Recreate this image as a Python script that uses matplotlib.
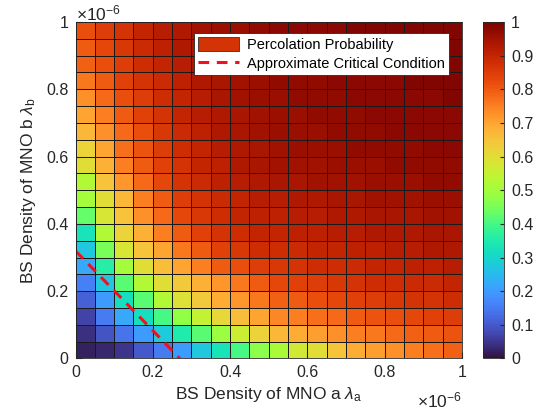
import numpy as np
import matplotlib
matplotlib.use("Agg")
import matplotlib.pyplot as plt
from matplotlib.patches import Patch
from matplotlib.lines import Line2D
from matplotlib.ticker import FuncFormatter

plt.rcParams['font.family'] = ['Liberation Sans', 'DejaVu Sans']
plt.rcParams['mathtext.fontset'] = 'custom'
plt.rcParams['mathtext.rm'] = 'Liberation Sans'
plt.rcParams['mathtext.it'] = 'Liberation Sans:italic'

# grid edges of BS densities (units of 1e-6)
lam_a = [0, 0.05, 0.1, 0.15, 0.2, 0.25, 0.3, 0.35, 0.4, 0.45, 0.5,
         0.55, 0.6, 0.65, 0.7, 0.75, 0.8, 0.85, 0.9, 0.95, 1.0]
lam_b = [0, 0.05, 0.1, 0.15, 0.2, 0.25, 0.3, 0.35, 0.4, 0.45, 0.5,
         0.55, 0.6, 0.65, 0.7, 0.75, 0.8, 0.85, 0.9, 0.95, 1.0]

# percolation probability, rows = lambda_b (bottom to top), cols = lambda_a
perc_prob = [
    [0.02, 0.03, 0.05, 0.10, 0.15, 0.20, 0.27, 0.33, 0.40, 0.47, 0.51, 0.57, 0.60, 0.65, 0.69, 0.71, 0.73, 0.75, 0.77, 0.79],
    [0.04, 0.09, 0.14, 0.20, 0.28, 0.35, 0.42, 0.49, 0.56, 0.62, 0.67, 0.69, 0.71, 0.73, 0.75, 0.76, 0.78, 0.79, 0.80, 0.81],
    [0.07, 0.15, 0.22, 0.32, 0.40, 0.48, 0.55, 0.61, 0.66, 0.70, 0.74, 0.75, 0.77, 0.78, 0.80, 0.81, 0.82, 0.83, 0.84, 0.85],
    [0.11, 0.20, 0.32, 0.42, 0.52, 0.59, 0.64, 0.69, 0.72, 0.76, 0.79, 0.80, 0.82, 0.83, 0.84, 0.85, 0.86, 0.87, 0.87, 0.88],
    [0.16, 0.27, 0.42, 0.52, 0.60, 0.64, 0.68, 0.72, 0.76, 0.80, 0.83, 0.84, 0.85, 0.86, 0.87, 0.88, 0.88, 0.89, 0.89, 0.90],
    [0.22, 0.36, 0.50, 0.60, 0.66, 0.70, 0.75, 0.80, 0.82, 0.85, 0.86, 0.87, 0.88, 0.88, 0.89, 0.90, 0.90, 0.91, 0.91, 0.92],
    [0.27, 0.45, 0.58, 0.65, 0.70, 0.76, 0.80, 0.84, 0.86, 0.88, 0.88, 0.89, 0.90, 0.90, 0.91, 0.91, 0.92, 0.92, 0.93, 0.93],
    [0.33, 0.52, 0.62, 0.68, 0.75, 0.80, 0.84, 0.87, 0.88, 0.90, 0.90, 0.91, 0.91, 0.92, 0.92, 0.93, 0.93, 0.93, 0.94, 0.94],
    [0.43, 0.58, 0.65, 0.73, 0.78, 0.83, 0.86, 0.88, 0.90, 0.91, 0.91, 0.92, 0.92, 0.93, 0.93, 0.94, 0.94, 0.94, 0.95, 0.95],
    [0.50, 0.60, 0.67, 0.75, 0.80, 0.85, 0.87, 0.89, 0.90, 0.92, 0.92, 0.93, 0.93, 0.94, 0.94, 0.95, 0.95, 0.95, 0.96, 0.96],
    [0.52, 0.65, 0.72, 0.78, 0.83, 0.87, 0.89, 0.91, 0.92, 0.93, 0.94, 0.94, 0.95, 0.95, 0.95, 0.96, 0.96, 0.96, 0.97, 0.97],
    [0.60, 0.68, 0.75, 0.80, 0.84, 0.87, 0.90, 0.91, 0.93, 0.94, 0.95, 0.95, 0.95, 0.96, 0.96, 0.96, 0.97, 0.97, 0.97, 0.97],
    [0.62, 0.70, 0.77, 0.81, 0.85, 0.88, 0.90, 0.92, 0.93, 0.94, 0.95, 0.96, 0.96, 0.96, 0.97, 0.97, 0.97, 0.97, 0.98, 0.98],
    [0.67, 0.73, 0.78, 0.82, 0.86, 0.89, 0.91, 0.93, 0.94, 0.95, 0.96, 0.96, 0.96, 0.97, 0.97, 0.97, 0.98, 0.98, 0.98, 0.98],
    [0.70, 0.75, 0.80, 0.84, 0.87, 0.90, 0.92, 0.93, 0.94, 0.95, 0.96, 0.96, 0.97, 0.97, 0.97, 0.98, 0.98, 0.98, 0.98, 0.98],
    [0.73, 0.78, 0.82, 0.85, 0.88, 0.90, 0.92, 0.94, 0.95, 0.96, 0.96, 0.97, 0.97, 0.97, 0.98, 0.98, 0.98, 0.98, 0.98, 0.99],
    [0.76, 0.80, 0.84, 0.87, 0.89, 0.91, 0.93, 0.94, 0.95, 0.96, 0.97, 0.97, 0.97, 0.98, 0.98, 0.98, 0.98, 0.99, 0.99, 0.99],
    [0.79, 0.82, 0.85, 0.88, 0.90, 0.92, 0.94, 0.95, 0.96, 0.97, 0.97, 0.97, 0.98, 0.98, 0.98, 0.98, 0.99, 0.99, 0.99, 0.99],
    [0.80, 0.83, 0.86, 0.89, 0.91, 0.93, 0.94, 0.95, 0.96, 0.97, 0.97, 0.98, 0.98, 0.98, 0.98, 0.99, 0.99, 0.99, 0.99, 0.99],
    [0.82, 0.85, 0.87, 0.90, 0.92, 0.93, 0.95, 0.96, 0.96, 0.97, 0.98, 0.98, 0.98, 0.98, 0.99, 0.99, 0.99, 0.99, 0.99, 0.99],
]

# approximate critical condition line
crit_a = [0, 0.27]
crit_b = [0.32, 0]

txt = '#262626'
fig = plt.figure(figsize=(5.41, 4.19), dpi=100)
ax = fig.add_axes([0.1396, 0.1444, 0.7144, 0.8031])
cax = fig.add_axes([0.8928, 0.1444, 0.0388, 0.8031])

mesh = ax.pcolormesh(lam_a, lam_b, np.array(perc_prob), cmap='turbo', vmin=0, vmax=1,
                     edgecolors='#1a1a1a', linewidth=0.5)
ax.plot(crit_a, crit_b, color='#f01020', linestyle=(0, (3.5, 2.5)), linewidth=2.2)

ax.set_xlim(0, 1)
ax.set_ylim(0, 1)
ax.set_xticks([0, 0.2, 0.4, 0.6, 0.8, 1])
ax.set_yticks([0, 0.2, 0.4, 0.6, 0.8, 1])
fmt = FuncFormatter(lambda v, p: '%g' % round(v, 2))
ax.xaxis.set_major_formatter(fmt)
ax.yaxis.set_major_formatter(fmt)
ax.tick_params(direction='in', length=4, labelsize=11.5, colors=txt, pad=5)
for s in ax.spines.values():
    s.set_color('#262626')
    s.set_linewidth(0.6)

ax.set_xlabel(r'BS Density of MNO a $\lambda_{\rm a}$', fontsize=12.5, color=txt, labelpad=3)
ax.set_ylabel(r'BS Density of MNO b $\lambda_{\rm b}$', fontsize=12.5, color=txt, labelpad=6)
ax.text(0, 0.995, r'$\times10^{-6}$', transform=ax.transAxes, fontsize=12.5, color=txt,
        ha='left', va='bottom')
ax.text(1, -0.095, r'$\times10^{-6}$', transform=ax.transAxes, fontsize=12.5, color=txt,
        ha='right', va='top')

handles = [Patch(facecolor=plt.get_cmap('turbo')(0.87), edgecolor='#333333', linewidth=0.6),
           Line2D([], [], color='#f01020', linestyle=(0, (3.5, 2.5)), linewidth=2.2)]
leg = ax.legend(handles, ['Percolation Probability', 'Approximate Critical Condition'],
                loc='upper right', bbox_to_anchor=(0.966, 0.967), borderaxespad=0,
                fontsize=10.5, fancybox=False, framealpha=1, edgecolor='#262626',
                handlelength=2.8, handleheight=1.0, borderpad=0.3, labelspacing=0.3,
                handletextpad=0.5)
leg.get_frame().set_linewidth(0.6)

cb = fig.colorbar(mesh, cax=cax, ticks=[0, 0.1, 0.2, 0.3, 0.4, 0.5, 0.6, 0.7, 0.8, 0.9, 1])
cb.ax.yaxis.set_major_formatter(fmt)
cb.ax.tick_params(direction='in', length=3, labelsize=11.5, colors=txt, pad=5)
cb.outline.set_edgecolor('#262626')
cb.outline.set_linewidth(0.6)

fig.savefig('out.png', dpi=100)
